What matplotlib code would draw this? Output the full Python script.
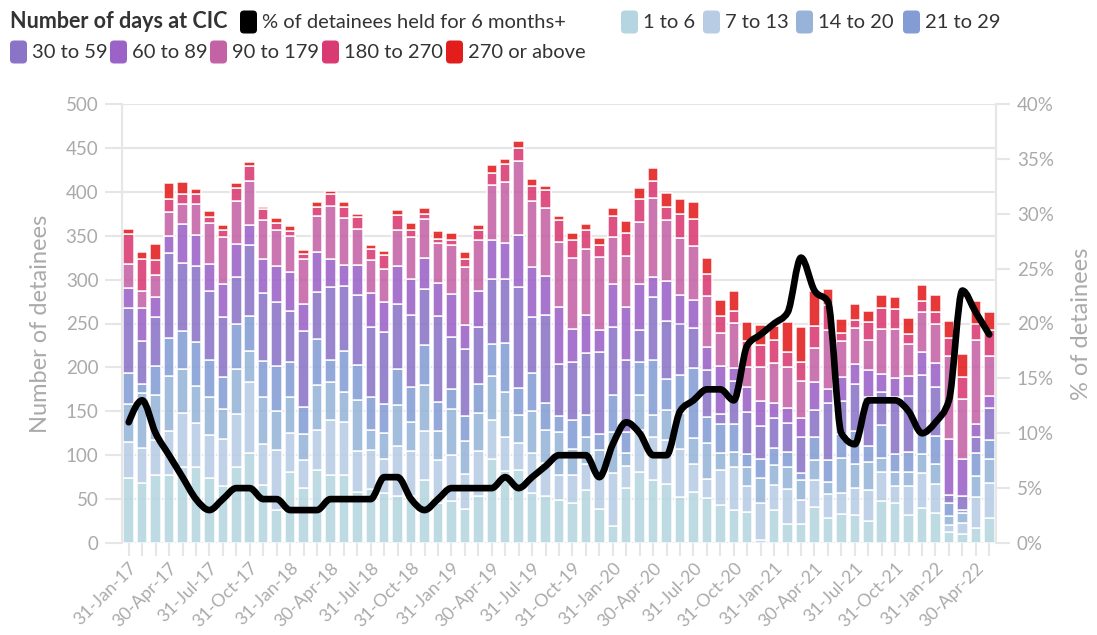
import numpy as np
import matplotlib
matplotlib.use('Agg')
import matplotlib.pyplot as plt
from matplotlib.path import Path
from matplotlib.patches import PathPatch, FancyBboxPatch
from matplotlib.ticker import FuncFormatter

plt.rcParams['font.family'] = ['Lato', 'DejaVu Sans']

# Monthly counts by days held at CIC, Jan-2017 .. May-2022
d1_6 = [74, 68, 78, 78, 86, 86, 74, 65, 86, 103, 66, 38, 81, 63, 83, 77, 78, 58, 62, 57,
        53, 53, 72, 45, 48, 39, 53, 96, 82, 83, 57, 53, 49, 45, 60, 39, 19, 63, 81, 72,
        67, 52, 58, 51, 43, 38, 35, 3, 38, 22, 22, 41, 29, 33, 32, 25, 48, 45, 32, 40,
        34, 13, 10, 17, 28]
d7_13 = [41, 40, 39, 49, 62, 51, 49, 53, 61, 80, 47, 68, 44, 31, 46, 63, 60, 47, 44, 39,
         57, 52, 55, 49, 52, 40, 52, 44, 39, 31, 46, 38, 28, 32, 30, 40, 61, 25, 48, 49,
         50, 55, 32, 22, 40, 49, 30, 42, 28, 39, 27, 31, 27, 24, 31, 35, 33, 20, 33, 40,
         33, 8, 13, 35, 40]
d14_20 = [43, 63, 51, 63, 50, 42, 43, 35, 51, 36, 53, 44, 41, 30, 51, 43, 34, 58, 23, 29,
          47, 33, 53, 34, 53, 37, 43, 50, 51, 32, 47, 38, 49, 30, 31, 27, 46, 14, 39, 25,
          35, 41, 30, 41, 20, 17, 21, 29, 23, 25, 23, 22, 13, 40, 27, 32, 16, 16, 16, 21,
          23, 10, 11, 24, 28]
d21_29 = [36, 10, 34, 43, 43, 50, 42, 36, 51, 40, 41, 52, 40, 31, 52, 25, 47, 40, 37, 33,
          41, 40, 46, 33, 22, 29, 33, 37, 56, 31, 44, 31, 19, 33, 25, 18, 42, 24, 38, 62,
          35, 43, 79, 29, 33, 32, 15, 22, 19, 18, 8, 27, 25, 27, 38, 19, 37, 20, 23, 23,
          32, 15, 4, 27, 21]
d30_59 = [74, 49, 55, 97, 78, 86, 79, 68, 54, 80, 78, 73, 58, 87, 54, 84, 74, 80, 80, 82,
          74, 82, 63, 98, 60, 76, 65, 74, 73, 115, 63, 100, 59, 66, 70, 94, 78, 82, 37, 72,
          66, 59, 46, 54, 11, 49, 48, 37, 34, 33, 41, 30, 65, 38, 53, 55, 38, 65, 63, 67,
          56, 9, 16, 18, 37]
d60_89 = [22, 38, 23, 20, 44, 36, 31, 38, 37, 23, 39, 40, 45, 30, 45, 32, 24, 34, 39, 35,
          43, 41, 36, 37, 49, 27, 41, 44, 41, 59, 57, 44, 65, 38, 44, 25, 49, 61, 52, 23,
          45, 32, 32, 26, 55, 14, 29, 29, 17, 17, 21, 32, 16, 27, 23, 31, 21, 22, 23, 27,
          27, 63, 42, 15, 13]
d90_179 = [28, 19, 25, 27, 23, 35, 47, 53, 49, 50, 44, 41, 41, 51, 42, 60, 53, 41, 37, 37,
           42, 48, 44, 46, 55, 66, 58, 63, 69, 84, 76, 77, 74, 81, 75, 83, 54, 58, 71, 90,
           70, 65, 61, 58, 37, 52, 23, 38, 46, 47, 43, 39, 68, 41, 41, 34, 51, 56, 37, 45,
           45, 95, 68, 95, 46]
d180_270 = [34, 36, 17, 15, 11, 11, 6, 9, 15, 17, 12, 8, 5, 6, 10, 13, 13, 13, 13, 16,
            17, 8, 6, 4, 6, 10, 11, 13, 21, 15, 17, 21, 25, 20, 22, 13, 23, 26, 26, 19,
            15, 28, 31, 25, 19, 13, 29, 26, 26, 17, 21, 25, 28, 9, 9, 21, 24, 22, 11, 13,
            13, 21, 25, 19, 30]
d270 = [6, 8, 19, 18, 14, 6, 7, 5, 6, 5, 3, 6, 6, 5, 5, 4, 5, 4, 4, 5,
        5, 7, 7, 9, 8, 8, 6, 10, 5, 8, 8, 5, 5, 8, 6, 8, 9, 14, 12, 15,
        16, 17, 19, 19, 19, 23, 22, 22, 16, 34, 40, 40, 18, 16, 18, 12, 14, 14, 18, 18,
        19, 19, 26, 26, 20]

# % of detainees held for 6 months+
pct_6m = [11, 13, 10, 8, 6, 4, 3, 4, 5, 5, 4, 4, 3, 3, 3, 4, 4, 4, 4, 6,
          6, 4, 3, 4, 5, 5, 5, 5, 6, 5, 6, 7, 8, 8, 8, 6, 9, 11, 10, 8,
          8, 12, 13, 14, 14, 13, 18, 19, 20, 21, 26, 23, 22, 10, 9, 13, 13, 13, 12, 10,
          11, 13, 23, 21, 19]

tick_labels = ['31-Jan-17', '30-Apr-17', '31-Jul-17', '31-Oct-17', '31-Jan-18', '30-Apr-18',
               '31-Jul-18', '31-Oct-18', '31-Jan-19', '30-Apr-19', '31-Jul-19', '31-Oct-19',
               '31-Jan-20', '30-Apr-20', '31-Jul-20', '31-Oct-20', '31-Jan-21', '30-Apr-21',
               '31-Jul-21', '31-Oct-21', '31-Jan-22', '30-Apr-22']

series_names = ['1 to 6', '7 to 13', '14 to 20', '21 to 29', '30 to 59',
                '60 to 89', '90 to 179', '180 to 270', '270 or above']
series = [d1_6, d7_13, d14_20, d21_29, d30_59, d60_89, d90_179, d180_270, d270]
colors = ['#b5d5e0', '#b8cce4', '#97b4d8', '#839dd4', '#8a74c8',
          '#9b62c8', '#c462a6', '#d93a72', '#e31c1c']

W, H = 1097, 635
fig = plt.figure(figsize=(W / 100, H / 100), dpi=100)
ax = fig.add_axes([122 / W, 1 - 543 / H, (996 - 122) / W, (543 - 104) / H])

grey = '#aaaaaa'
light = '#e6e6e6'

x = np.arange(len(d1_6))
bottom = np.zeros(len(x))
for vals, c in zip(series, colors):
    ax.bar(x, vals, bottom=bottom, width=0.78, color=c, alpha=0.88,
           edgecolor='white', linewidth=1.2, zorder=2)
    bottom += np.array(vals)

ax.set_xlim(-0.5, len(x) - 0.5)
ax.set_ylim(0, 500)
ax.set_yticks(range(0, 501, 50))
ax.yaxis.grid(True, color=light, linewidth=1.5)
ax.set_axisbelow(True)
for s in ['top', 'bottom']:
    ax.spines[s].set_visible(False)
for s in ['left', 'right']:
    ax.spines[s].set_color(light)
    ax.spines[s].set_linewidth(1.5)

ax.set_xticks(x)
labels = [''] * len(x)
for i, lab in enumerate(tick_labels):
    labels[i * 3] = lab
ax.set_xticklabels(labels, rotation=45, ha='right', rotation_mode='anchor')
ax.tick_params(axis='x', length=9, width=1.5, color=light, labelcolor=grey,
               labelsize=12.8, pad=3)
ax.tick_params(axis='y', length=12, width=1.5, color=light, labelcolor=grey,
               labelsize=13.5, pad=5)
ax.set_ylabel('Number of detainees', fontsize=17, color=grey)
ax.yaxis.set_label_coords(-0.081, 0.5)

# line on the secondary axis, drawn as a monotone smooth curve through the points
ax2 = ax.twinx()
ax2.set_ylim(0, 40)
ax2.set_yticks(range(0, 41, 5))
ax2.yaxis.set_major_formatter(FuncFormatter(lambda v, p: f'{int(v)}%'))
ax2.tick_params(axis='y', length=10, width=1.5, color=light, labelcolor=grey,
                labelsize=13.5, pad=5)
for s in ax2.spines.values():
    s.set_visible(False)
ax2.set_ylabel('% of detainees', fontsize=17, color=grey)
ax2.yaxis.set_label_coords(1.086, 0.5)

y = np.array(pct_6m, dtype=float)
d = np.diff(y)
m = np.zeros(len(y))
for i in range(1, len(y) - 1):
    s0, s1 = d[i - 1], d[i]
    p = (s0 + s1) / 2
    m[i] = (np.sign(s0) + np.sign(s1)) * min(abs(s0), abs(s1), 0.5 * abs(p))
m[0] = (3 * d[0] - m[1]) / 2
m[-1] = (3 * d[-1] - m[-2]) / 2
verts = [(x[0], y[0])]
codes = [Path.MOVETO]
for i in range(len(y) - 1):
    verts += [(x[i] + 1 / 3, y[i] + m[i] / 3),
              (x[i + 1] - 1 / 3, y[i + 1] - m[i + 1] / 3),
              (x[i + 1], y[i + 1])]
    codes += [Path.CURVE4] * 3
ax2.add_patch(PathPatch(Path(verts, codes), facecolor='none', edgecolor='black',
                        linewidth=4.8, capstyle='round', joinstyle='round', zorder=5))

# legend drawn by hand across the top
def legend_item(xp, yp, color, label):
    fig.patches.append(FancyBboxPatch(((xp) / 100, (H - yp - 11.5) / 100), 0.17, 0.23,
                                      boxstyle='round,pad=0,rounding_size=0.04',
                                      transform=fig.dpi_scale_trans, facecolor=color,
                                      edgecolor='none', figure=fig))
    fig.text((xp + 22) / W, 1 - yp / H, label, fontsize=14.5, color='#333333', va='center')

fig.text(10 / W, 1 - 22 / H, 'Number of days at CIC', fontsize=15.5, fontweight='bold',
         color='#333333', va='center')
legend_item(240, 22, 'black', '% of detainees held for 6 months+')
row1_x = [621, 703, 796, 903]
for xp, c, name in zip(row1_x, colors[:4], series_names[:4]):
    legend_item(xp, 22, c, name)
row2_x = [10, 110, 210, 322, 446]
for xp, c, name in zip(row2_x, colors[4:], series_names[4:]):
    legend_item(xp, 52, c, name)

fig.savefig('out.png', dpi=100)
